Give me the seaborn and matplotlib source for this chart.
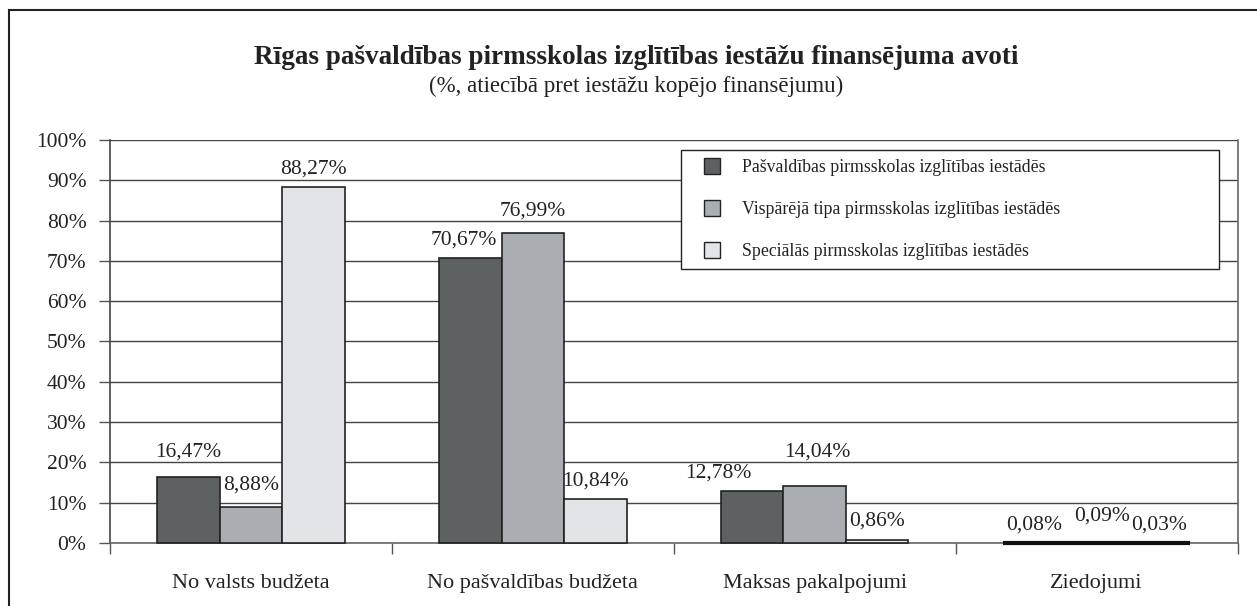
import pandas as pd
import numpy as np
import seaborn as sns
import matplotlib.pyplot as plt
from matplotlib.patches import Rectangle
from matplotlib.lines import Line2D
from matplotlib.ticker import FixedLocator

# Chart data
categories = ["No valsts budžeta", "No pašvaldības budžeta", "Maksas pakalpojumi", "Ziedojumi"]
series_names = [
    "Pašvaldības pirmsskolas izglītības iestādēs",
    "Vispārējā tipa pirmsskolas izglītības iestādēs",
    "Speciālās pirmsskolas izglītības iestādēs",
]
pasvaldibas = [16.47, 70.67, 12.78, 0.08]
visparejas = [8.88, 76.99, 14.04, 0.09]
specialas = [88.27, 10.84, 0.86, 0.03]
colors = ["#5b6163", "#a8aeb4", "#e1e4e9"]

# small label nudges (pixels) where the original moved labels apart
label_nudge = {
    (0, 0): (0, 7), (1, 0): (0, 4), (0, 1): (-7, 0), (1, 1): (0, 4),
    (0, 2): (-34, 0), (1, 2): (3, 16), (1, 3): (5, 9),
}

# Long format for seaborn
rows = []
for name, vals in zip(series_names, [pasvaldibas, visparejas, specialas]):
    for cat, v in zip(categories, vals):
        rows.append({"category": cat, "series": name, "value": v})
df = pd.DataFrame(rows)

sns.set_style("white")
plt.rcParams["font.family"] = ["Liberation Serif", "DejaVu Serif"]

fig = plt.figure(figsize=(12.57, 6.06), dpi=100)
ax = fig.add_axes([0.0875, 0.104, 0.897, 0.665])

sns.barplot(data=df, x="category", y="value", hue="series", order=categories,
            hue_order=series_names, palette=colors, edgecolor="#222222",
            linewidth=1.2, width=0.665, gap=0, ax=ax, zorder=3, legend=False)
for p in ax.patches:
    p.set_clip_on(False)
    if p.get_height() < 0.5:
        # near-zero bars show up as a heavy black line in the original
        p.set_linewidth(3)
        p.set_edgecolor("#111111")

# value labels with decimal comma, drawn from the bar geometry
for si, (cont, vals) in enumerate(zip(ax.containers, [pasvaldibas, visparejas, specialas])):
    for ci, (bar, v) in enumerate(zip(cont, vals)):
        dx, dy = label_nudge.get((si, ci), (0, 0))
        ax.annotate(f"{v:.2f}".replace(".", ",") + "%",
                    xy=(bar.get_x() + bar.get_width() / 2, bar.get_height()),
                    xytext=(dx * 0.72, (18 + dy) * 0.72), textcoords="offset points",
                    ha="center", va="center", fontsize=15.5, color="#222222")

ax.set_ylim(0, 100)
ax.set_xlim(-0.5, 3.5)
ax.set_yticks(np.arange(0, 101, 10))
ax.set_yticklabels([f"{t}%" for t in range(0, 101, 10)], fontsize=15.5, color="#222222")
ax.yaxis.grid(True, color="#444444", linewidth=1.0, zorder=0)
ax.set_axisbelow(True)

# category labels centered, tick marks on group boundaries
ax.set_xticks(range(len(categories)))
ax.set_xticklabels(categories, fontsize=16, color="#222222")
ax.tick_params(axis="x", which="major", length=0, pad=22)
ax.xaxis.set_minor_locator(FixedLocator(np.arange(-0.5, 4, 1)))
ax.tick_params(axis="x", which="minor", length=8, width=1, color="#555555", direction="out", bottom=True)
ax.tick_params(axis="y", length=8, width=1, color="#555555", direction="out", left=True, pad=9)

ax.set_xlabel("")
ax.set_ylabel("")
for side in ["left", "bottom", "right"]:
    ax.spines[side].set_visible(True)
    ax.spines[side].set_color("#666666")
    ax.spines[side].set_linewidth(1.2)
ax.spines["left"].set_color("#444444")
ax.spines["top"].set_visible(False)

# legend: square markers, wide box
handles = [Line2D([], [], linestyle="none", marker="s", markersize=11,
                  markerfacecolor=c, markeredgecolor="#222222", markeredgewidth=1.0)
           for c in colors]
leg = ax.legend(handles, series_names, loc="upper left",
                bbox_to_anchor=(0.5067, 0.5, 0.4765, 0.475), mode="expand",
                fontsize=12.8, frameon=True, fancybox=False, framealpha=1,
                edgecolor="#222222", labelspacing=1.4, handlelength=2.4,
                handletextpad=0.5, borderpad=0.5, borderaxespad=0)
leg.get_frame().set_linewidth(1.0)
for t in leg.get_texts():
    t.set_color("#222222")

fig.text(0.506, 0.905, "Rīgas pašvaldības pirmsskolas izglītības iestāžu finansējuma avoti",
         ha="center", va="center", fontsize=19.5, fontweight="bold", color="#222222")
fig.text(0.506, 0.857, "(%, atiecībā pret iestāžu kopējo finansējumu)",
         ha="center", va="center", fontsize=16.5, color="#222222")

# outer frame around the whole chart
fig.patches.append(Rectangle((9 / 1257, -0.1), 1.2, 1.1 - 10 / 606, transform=fig.transFigure,
                             fill=False, edgecolor="#222222", linewidth=1.5))

fig.savefig("out.png", dpi=100)
